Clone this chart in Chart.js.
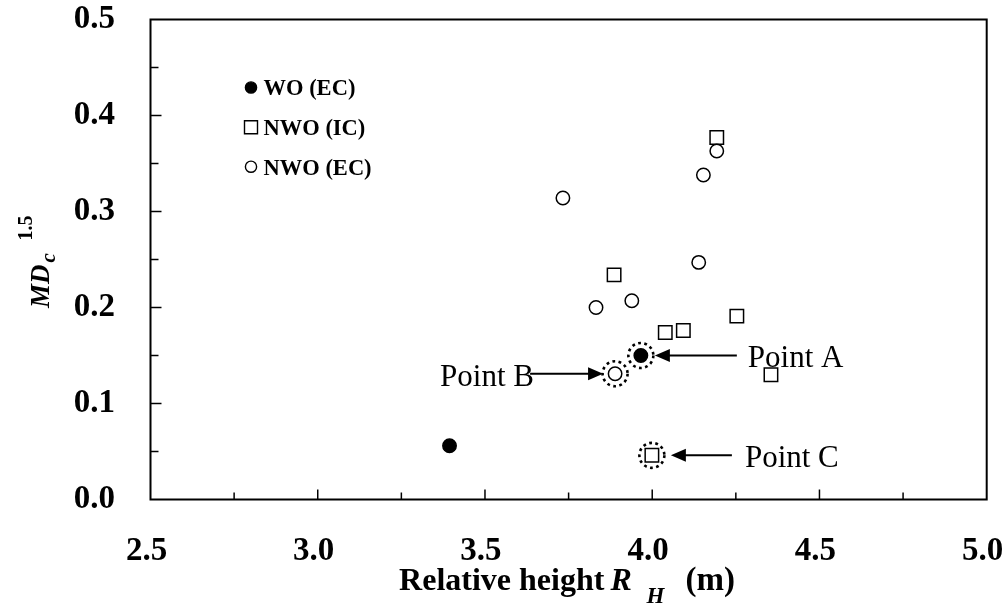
<!DOCTYPE html>
<html>
<head>
<meta charset="utf-8">
<script src="https://cdn.jsdelivr.net/npm/chart.js@4.4.1/dist/chart.umd.min.js"></script>
<style>
  html, body { margin: 0; padding: 0; background: #fff; }
  #wrap { width: 1007px; height: 605px; }
</style>
</head>
<body>
<div id="wrap"><canvas id="c" width="1007" height="605"></canvas></div>
<script>
// ---- data ----
const seriesNames = ['WO (EC)', 'NWO (IC)', 'NWO (EC)'];
const woX = [3.394, 3.966];
const woY = [0.056, 0.150];
const nwoIcX = [4.193, 3.886, 4.039, 4.093, 4.253, 4.355, 3.999];
const nwoIcY = [0.377, 0.234, 0.174, 0.176, 0.191, 0.130, 0.046];
const nwoEcX = [4.193, 4.153, 3.733, 4.139, 3.832, 3.939, 3.889];
const nwoEcY = [0.363, 0.338, 0.314, 0.247, 0.200, 0.207, 0.131];
const xTicks = [2.5, 3.0, 3.5, 4.0, 4.5, 5.0];
const yTicks = [0.0, 0.1, 0.2, 0.3, 0.4, 0.5];
const highlightLabels = ['Point A', 'Point B', 'Point C'];
const highlightX = [3.966, 3.889, 3.999];
const highlightY = [0.150, 0.131, 0.046];

const pts = (xs, ys) => xs.map((x, i) => ({ x: x, y: ys[i] }));
const SERIF = "'Liberation Serif', 'Times New Roman', serif";

const decor = {
  id: 'decor',
  afterDatasetsDraw(chart) {
    const ctx = chart.ctx;
    const a = chart.chartArea;
    const xs = chart.scales.x, ys = chart.scales.y;
    ctx.save();
    ctx.strokeStyle = '#000';
    ctx.fillStyle = '#000';
    // frame
    ctx.lineWidth = 2;
    ctx.strokeRect(a.left, a.top, a.right - a.left, a.bottom - a.top);
    // inward ticks
    ctx.lineWidth = 1.5;
    for (let i = 1; i < (xTicks.length - 1) * 2; i++) {
      const v = xTicks[0] + i * 0.25;
      const px = xs.getPixelForValue(v);
      const len = i % 2 === 0 ? 10 : 7;
      ctx.beginPath(); ctx.moveTo(px, a.bottom); ctx.lineTo(px, a.bottom - len); ctx.stroke();
    }
    for (let i = 1; i < (yTicks.length - 1) * 2; i++) {
      const v = yTicks[0] + i * 0.05;
      const py = ys.getPixelForValue(v);
      const len = i % 2 === 0 ? 11 : 8;
      ctx.beginPath(); ctx.moveTo(a.left, py); ctx.lineTo(a.left + len, py); ctx.stroke();
    }
    // highlight dotted circles
    ctx.lineWidth = 2.6;
    ctx.setLineDash([2.8, 3.4]);
    highlightX.forEach((hx, i) => {
      const px = xs.getPixelForValue(hx), py = ys.getPixelForValue(highlightY[i]);
      ctx.beginPath(); ctx.arc(px, py, 12.5, 0, Math.PI * 2); ctx.stroke();
    });
    ctx.setLineDash([]);
    // arrows + labels
    const arrow = (x1, x2, y) => {
      const dir = Math.sign(x2 - x1);
      ctx.lineWidth = 2;
      ctx.beginPath(); ctx.moveTo(x1, y); ctx.lineTo(x2 - dir * 12, y); ctx.stroke();
      ctx.beginPath();
      ctx.moveTo(x2, y);
      ctx.lineTo(x2 - dir * 15, y - 6.5);
      ctx.lineTo(x2 - dir * 15, y + 6.5);
      ctx.closePath(); ctx.fill();
    };
    ctx.font = '31px ' + SERIF;
    ctx.textBaseline = 'alphabetic';
    let px = xs.getPixelForValue(highlightX[0]), py = ys.getPixelForValue(highlightY[0]);
    arrow(px + 96, px + 14, py);
    ctx.textAlign = 'left';
    ctx.fillText(highlightLabels[0], px + 107, py + 11.5);
    px = xs.getPixelForValue(highlightX[1]); py = ys.getPixelForValue(highlightY[1]);
    ctx.fillText(highlightLabels[1], px - 175, py + 12);
    arrow(px - 85, px - 12, py);
    px = xs.getPixelForValue(highlightX[2]); py = ys.getPixelForValue(highlightY[2]);
    arrow(px + 80, px + 19, py);
    ctx.fillText(highlightLabels[2], px + 93, py + 12);

    // legend
    const ds = chart.data.datasets;
    const rowY = [87.5, 127.3, 166.7];
    ds.forEach((d, i) => {
      const cx = 251, cy = rowY[i];
      ctx.lineWidth = 1.4;
      ctx.strokeStyle = '#000';
      ctx.fillStyle = d.pointBackgroundColor;
      ctx.beginPath();
      if (d.pointStyle === 'rect') {
        ctx.rect(cx - 6.5, cy - 6.5, 13, 13);
      } else {
        ctx.arc(cx, cy, 5.6, 0, Math.PI * 2);
      }
      ctx.fill(); ctx.stroke();
      ctx.fillStyle = '#000';
      ctx.font = 'bold 22.5px ' + SERIF;
      ctx.textAlign = 'left';
      ctx.fillText(d.label, 263.5, cy + 7.8);
    });

    // x axis title (segments placed relative to the plot centre)
    const cxT = (a.left + a.right) / 2;
    const base = 590;
    ctx.textAlign = 'left';
    ctx.font = 'bold 32px ' + SERIF;
    ctx.fillText('Relative height', cxT - 169.5, base);
    ctx.font = 'italic bold 32px ' + SERIF;
    ctx.fillText('R', cxT + 42, base);
    ctx.font = 'italic bold 23px ' + SERIF;
    ctx.fillText('H', cxT + 78, base + 13);
    ctx.font = 'bold 33px ' + SERIF;
    ctx.fillText('(m)', cxT + 117, base);

    // y axis title (rotated)
    ctx.save();
    ctx.translate(49, 308);
    ctx.rotate(-Math.PI / 2);
    ctx.textAlign = 'left';
    ctx.font = 'italic bold 27px ' + SERIF;
    ctx.fillText('MD', 0, 0);
    const wMD = ctx.measureText('MD').width;
    ctx.font = 'italic bold 21px ' + SERIF;
    ctx.fillText('c', wMD + 2, 6);
    ctx.font = 'bold 20px ' + SERIF;
    ctx.fillText('1.5', wMD + 24, -17);
    ctx.restore();

    ctx.restore();
  }
};

const tickFont = { family: SERIF, size: 33, weight: 'bold' };
const noPad = s => { s.paddingTop = 0; s.paddingBottom = 0; s.paddingLeft = 0; s.paddingRight = 0; };

new Chart(document.getElementById('c'), {
  type: 'scatter',
  data: {
    datasets: [
      {
        label: seriesNames[0], data: pts(woX, woY), order: 0,
        pointStyle: 'circle', pointRadius: 6.7, pointBorderWidth: 1.5,
        pointBackgroundColor: '#000', pointBorderColor: '#000'
      },
      {
        label: seriesNames[1], data: pts(nwoIcX, nwoIcY), order: 2,
        pointStyle: 'rect', pointRadius: 9.5, pointBorderWidth: 1.5,
        pointBackgroundColor: '#fff', pointBorderColor: '#000'
      },
      {
        label: seriesNames[2], data: pts(nwoEcX, nwoEcY), order: 1,
        pointStyle: 'circle', pointRadius: 6.7, pointBorderWidth: 1.5,
        pointBackgroundColor: '#fff', pointBorderColor: '#000'
      }
    ]
  },
  options: {
    responsive: false,
    animation: false,
    events: [],
    layout: { padding: { top: 19.5, right: 20.3, left: 0, bottom: 0 } },
    plugins: { legend: { display: false }, tooltip: { enabled: false } },
    scales: {
      x: {
        type: 'linear', min: xTicks[0], max: xTicks[xTicks.length - 1],
        border: { display: false },
        grid: { display: false, drawTicks: false },
        afterBuildTicks: s => { s.ticks = xTicks.map(v => ({ value: v })); },
        ticks: {
          callback: v => Number(v).toFixed(1), font: tickFont, color: '#000',
          padding: 32, labelOffset: -4, maxRotation: 0, autoSkip: false
        },
        afterFit: s => { s.height = 105.5; noPad(s); }
      },
      y: {
        type: 'linear', min: yTicks[0], max: yTicks[yTicks.length - 1],
        border: { display: false },
        grid: { display: false, drawTicks: false },
        afterBuildTicks: s => { s.ticks = yTicks.map(v => ({ value: v })); },
        ticks: {
          callback: v => Number(v).toFixed(1), font: tickFont, color: '#000',
          padding: 35.5, autoSkip: false
        },
        afterFit: s => { s.width = 150.5; noPad(s); }
      }
    }
  },
  plugins: [decor]
});
</script>
</body>
</html>
